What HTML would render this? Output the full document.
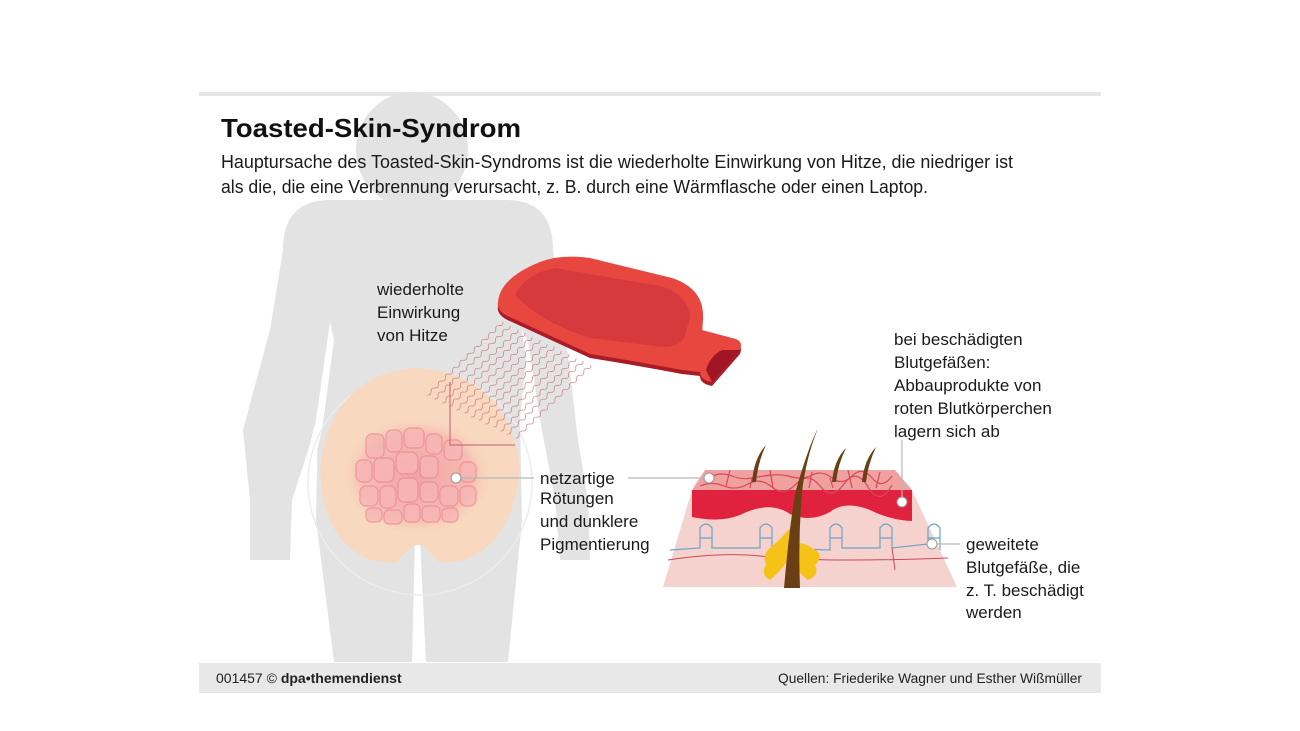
<!DOCTYPE html>
<html><head><meta charset="utf-8"><style>
html,body{margin:0;padding:0;background:#fff;}
svg{display:block;font-family:"Liberation Sans",sans-serif;}
</style></head><body>
<svg width="1300" height="731" viewBox="0 0 1300 731" xmlns="http://www.w3.org/2000/svg">
<defs>
<radialGradient id="blot" cx="0.5" cy="0.5" r="0.5">
<stop offset="0" stop-color="#f29aa0" stop-opacity="0.9"/>
<stop offset="0.7" stop-color="#f4a7a8" stop-opacity="0.6"/>
<stop offset="1" stop-color="#f8dcc4" stop-opacity="0"/>
</radialGradient>
<path id="wave" d="M0,0 q2.5,-3 5,0 t5,0 t5,0 t5,0 t5,0 t5,0 t5,0 t5,0 t5,0 t5,0 t5,0 t5,0 t5,0 t5,0 t5,0 t5,0 t5,0 t5,0 t5,0 t5,0 t5,0" fill="none" stroke="#c06070" stroke-width="0.7" opacity="0.8"/>
</defs>
<rect width="1300" height="731" fill="#fff"/>
<rect x="199" y="92" width="902" height="4" fill="#e6e6e6"/>

<!-- silhouette -->
<g fill="#e3e3e3">
<ellipse cx="412" cy="150" rx="56" ry="58"/>
<rect x="388" y="180" width="50" height="40"/>
<path d="M330,200 L506,200 Q553,200 553,250 L565,330 L578,440 L588,500 L590,560 L560,560 L555,500 L540,420 L528,340 L520,420 L522,520 L508,662 L426,662 L420,540 L415,540 L412,662 L334,662 L316,520 L318,420 L330,340 L318,420 L292,500 L290,560 L250,560 L250,500 L243,430 L270,330 L283,250 Q283,200 330,200 Z"/>
</g>
<path d="M330,322 L334,340 L322,430 L305,500 L300,560 L292,560 L296,500 L316,420 Z" fill="#fff"/>
<path d="M522,330 L528,342 L540,420 L555,500 L560,560 L554,560 L550,500 L534,420 Z" fill="#fff"/>

<!-- abdomen -->
<circle cx="420" cy="483" r="112" fill="none" stroke="#ececec" stroke-width="1.5"/>
<path d="M320,470 Q330,375 415,368 Q505,372 520,465 Q515,540 465,560 L440,563 Q425,545 418,545 Q410,545 396,563 L370,560 Q322,540 320,470 Z" fill="#f8d9bf"/>
<ellipse cx="417" cy="476" rx="78" ry="62" fill="url(#blot)"/>
<g fill="#f7b5b5" stroke="#e98890" stroke-width="1.2" opacity="0.75">
<rect x="366" y="434" width="18" height="24" rx="6"/><rect x="386" y="430" width="16" height="22" rx="6"/><rect x="404" y="428" width="20" height="20" rx="6"/><rect x="426" y="434" width="16" height="20" rx="6"/><rect x="444" y="440" width="18" height="20" rx="6"/>
<rect x="356" y="460" width="16" height="22" rx="6"/><rect x="374" y="458" width="20" height="24" rx="6"/><rect x="396" y="452" width="22" height="22" rx="7"/><rect x="420" y="456" width="18" height="22" rx="6"/><rect x="460" y="462" width="16" height="20" rx="6"/>
<rect x="360" y="486" width="18" height="20" rx="6"/><rect x="380" y="486" width="16" height="22" rx="6"/><rect x="398" y="478" width="20" height="24" rx="6"/><rect x="420" y="482" width="18" height="20" rx="6"/><rect x="440" y="486" width="18" height="20" rx="6"/><rect x="460" y="486" width="16" height="20" rx="6"/>
<rect x="366" y="508" width="16" height="14" rx="5"/><rect x="384" y="510" width="18" height="14" rx="5"/><rect x="404" y="504" width="16" height="18" rx="5"/><rect x="422" y="506" width="18" height="16" rx="5"/><rect x="442" y="508" width="16" height="14" rx="5"/>
</g>

<!-- heat waves -->
<g>
<use href="#wave" transform="translate(503,322) rotate(136)"/>
<use href="#wave" transform="translate(510,326) rotate(136)"/>
<use href="#wave" transform="translate(518,330) rotate(136)"/>
<use href="#wave" transform="translate(525,333) rotate(136)"/>
<use href="#wave" transform="translate(532,337) rotate(136)"/>
<use href="#wave" transform="translate(540,340) rotate(136)"/>
<use href="#wave" transform="translate(547,344) rotate(136)"/>
<use href="#wave" transform="translate(554,347) rotate(136)"/>
<use href="#wave" transform="translate(561,351) rotate(136)"/>
<use href="#wave" transform="translate(569,354) rotate(136)"/>
<use href="#wave" transform="translate(576,358) rotate(136)"/>
<use href="#wave" transform="translate(583,361) rotate(136)"/>
<use href="#wave" transform="translate(591,365) rotate(136)"/>
</g>
<path d="M450,382 L450,445 L515,445" fill="none" stroke="#c0606e" stroke-width="1"/>

<!-- hot water bottle -->
<path d="M498,306 Q500,282 540,266 Q560,258 590,262 L672,282 Q702,292 703,318 L702,334 L732,342 Q744,344 740,354 L712,386 Q700,384 700,376 L682,374 Q640,366 590,358 L512,322 Q496,316 498,306 Z" fill="#a81c28"/>
<path d="M498,302 Q500,278 540,262 Q560,254 590,258 L672,278 Q702,288 703,314 L702,330 L732,338 Q744,340 740,350 L712,382 Q700,380 700,372 L682,370 Q640,362 590,354 L512,318 Q496,312 498,302 Z" fill="#e8473f"/>
<path d="M515,295 Q525,274 555,268 L660,286 Q688,294 690,318 L684,338 Q676,350 655,346 L590,338 Q540,322 515,295 Z" fill="#d63a3d"/>
<path d="M706,370 Q710,356 722,350 L740,350 L712,382 Z" fill="#a01626"/>

<!-- skin block -->
<path d="M692,490 L663,587 L957,587 L912,490 Z" fill="#f6d2cf"/>
<path d="M692,490 L912,490 L912,521 Q890,520 870,510 Q845,500 830,512 Q810,523 790,514 Q770,500 740,515 Q720,523 692,517 Z" fill="#e1223f"/>
<path d="M705,470 L895,470 L912,490 L692,490 Z" fill="#eea19e"/>
<g fill="none" stroke="#d9485a" stroke-width="1.2">
<path d="M712,476 q10,-4 20,0 t20,2 t20,-3 t20,2 t20,-2 t20,3 t20,-2 t20,2 t20,-2"/>
<path d="M700,486 q12,-5 24,0 t24,-2 t24,3 t24,-3 t24,2 t24,-2 t24,3 t24,-2"/>
<path d="M730,470 l-4,16 M770,470 l3,18 M812,472 l-3,16 M848,470 l4,18 M880,472 l-4,16 M752,478 l-2,10 M830,478 l3,10"/>
</g>
<g fill="none" stroke="#6ea3c8" stroke-width="1.2">
<path d="M670,550 L700,548 L700,528 Q706,520 712,528 L712,548 L760,548 L760,528 Q766,520 772,528 L772,548 L830,550 L830,528 Q836,520 842,528 L842,548 L880,548 L880,528 Q886,520 892,528 L892,548 L928,544 L928,528 Q934,520 940,528 L940,550"/>
<path d="M700,538 h12 M760,538 h12 M830,538 h12 M880,538 h12 M928,538 h12"/>
</g>
<path d="M668,560 Q720,552 760,556 T850,560 T948,558" fill="none" stroke="#c84a5a" stroke-width="1"/>
<path d="M772,548 L770,565 M892,548 L895,570" stroke="#c84a5a" stroke-width="1"/>
<path d="M770,548 Q762,555 766,565 Q760,575 770,580 Q780,572 788,560 Q798,572 808,580 Q820,575 815,565 Q826,555 812,548 Q800,540 795,545 L790,528 Q780,540 770,548 Z" fill="#f5c218"/>
<path d="M784,588 Q790,520 796,490 Q808,448 818,428 Q806,458 802,492 Q798,540 800,588 Z" fill="#6b3f14"/>
<path d="M752,482 Q754,458 766,445 Q758,462 756,482 Z M832,482 Q834,460 846,448 Q838,464 836,482 Z M862,482 Q864,460 876,447 Q868,464 866,482 Z" fill="#6b3f14"/>

<!-- callouts -->
<g stroke="#b8b8b8" stroke-width="1.2" fill="none">
<line x1="456" y1="478" x2="534" y2="478"/>
<line x1="628" y1="478" x2="709" y2="478"/>
<line x1="902" y1="440" x2="902" y2="502"/>
<line x1="932" y1="544" x2="960" y2="544"/>
</g>
<g fill="#fff" stroke="#999" stroke-width="1">
<circle cx="456" cy="478" r="5"/><circle cx="709" cy="478" r="5"/><circle cx="902" cy="502" r="5"/><circle cx="932" cy="544" r="5"/>
</g>

<!-- texts -->
<text x="221" y="137" font-size="26" font-weight="bold" fill="#111" textLength="300" lengthAdjust="spacingAndGlyphs">Toasted-Skin-Syndrom</text>
<g font-size="18" fill="#1a1a1a">
<text x="221" y="168" textLength="792" lengthAdjust="spacingAndGlyphs">Hauptursache des Toasted-Skin-Syndroms ist die wiederholte Einwirkung von Hitze, die niedriger ist</text>
<text x="221" y="193" textLength="707" lengthAdjust="spacingAndGlyphs">als die, die eine Verbrennung verursacht, z. B. durch eine Wärmflasche oder einen Laptop.</text>
</g>
<g font-size="17" fill="#1a1a1a">
<text x="377" y="295">wiederholte</text>
<text x="377" y="318">Einwirkung</text>
<text x="377" y="341">von Hitze</text>
<text x="540" y="484">netzartige</text>
<text x="540" y="504">Rötungen</text>
<text x="540" y="527">und dunklere</text>
<text x="540" y="550">Pigmentierung</text>
<text x="894" y="345">bei beschädigten</text>
<text x="894" y="368">Blutgefäßen:</text>
<text x="894" y="391">Abbauprodukte von</text>
<text x="894" y="414">roten Blutkörperchen</text>
<text x="894" y="437">lagern sich ab</text>
<text x="966" y="550">geweitete</text>
<text x="966" y="573">Blutgefäße, die</text>
<text x="966" y="596">z. T. beschädigt</text>
<text x="966" y="618">werden</text>
</g>

<!-- footer -->
<rect x="199" y="663" width="902" height="30" fill="#e8e8e8"/>
<text x="216" y="683" font-size="14" fill="#222">001457 © <tspan font-weight="bold">dpa•themendienst</tspan></text>
<text x="1082" y="683" font-size="14" fill="#222" text-anchor="end" textLength="304" lengthAdjust="spacingAndGlyphs">Quellen: Friederike Wagner und Esther Wißmüller</text>
</svg>
</body></html>
